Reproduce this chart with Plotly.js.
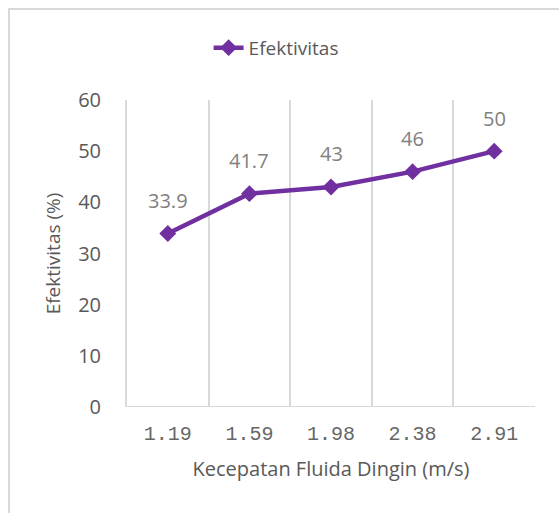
<!DOCTYPE html>
<html>
<head>
<meta charset="utf-8">
<script src="https://cdn.plot.ly/plotly-3.0.1.min.js"></script>
<style>
  html, body { margin: 0; padding: 0; background: #ffffff; overflow: hidden; }
  #frame { position: absolute; left: 8px; top: 8px; width: 700px; height: 700px;
           border: 2px solid #d9d9d9; box-sizing: border-box; }
  #chart { position: absolute; left: 0; top: 0; width: 559px; height: 513px; }
</style>
</head>
<body>
<div id="frame"></div>
<div id="chart"></div>
<script>
// Effectiveness of the heat exchanger vs. cold-fluid velocity
const velocityLabels = ['1.19', '1.59', '1.98', '2.38', '2.91'];
const effectiveness = [33.9, 41.7, 43, 46, 50];
const yTicks = [0, 10, 20, 30, 40, 50, 60];

const idx = velocityLabels.map((_, i) => i);
// category boundaries used for the vertical gridlines
const bounds = velocityLabels.map((_, i) => i - 0.5).concat([velocityLabels.length - 0.5]);

const purple = '#7030A0';
const grid = '#d9d9d9';
const txt = '#595959';
const font = 'Open Sans, sans-serif';

const data = [
  {
    x: idx,
    y: effectiveness,
    type: 'scatter',
    mode: 'lines+markers',
    name: 'Efektivitas',
    line: { color: purple, width: 4.5 },
    marker: { symbol: 'diamond', size: 13, color: purple },
    cliponaxis: false
  },
  {
    // invisible trace carrying the boundary axis
    x: bounds,
    y: bounds.map(() => null),
    xaxis: 'x2',
    type: 'scatter',
    mode: 'lines',
    showlegend: false,
    hoverinfo: 'skip'
  }
];

// value labels above each point
const valueLabels = effectiveness.map((v, i) => ({
  x: idx[i], y: v, xref: 'x', yref: 'y',
  text: String(v), showarrow: false,
  yanchor: 'middle', yshift: 33,
  font: { family: font, size: 20, color: '#808080' }
}));

const layout = {
  width: 559,
  height: 513,
  paper_bgcolor: 'rgba(0,0,0,0)',
  plot_bgcolor: 'rgba(0,0,0,0)',
  margin: { l: 127, r: 24, t: 100, b: 106 },
  showlegend: true,
  legend: {
    orientation: 'h',
    x: 0.2, xanchor: 'left',
    y: 1.17, yanchor: 'middle',
    font: { family: font, size: 19, color: txt },
    bgcolor: 'rgba(0,0,0,0)'
  },
  annotations: valueLabels,
  xaxis: {
    range: [-0.5, velocityLabels.length - 0.5],
    tickmode: 'array',
    tickvals: idx,
    ticktext: velocityLabels,
    showgrid: false,
    zeroline: false,
    showline: false,
    ticks: '',
    ticklabelstandoff: 12,
    tickfont: { family: 'Liberation Mono, monospace', size: 20, color: '#666666' },
    title: {
      text: 'Kecepatan Fluida Dingin (m/s)',
      font: { family: font, size: 20, color: txt },
      standoff: 16
    }
  },
  xaxis2: {
    overlaying: 'x',
    matches: 'x',
    range: [-0.5, velocityLabels.length - 0.5],
    tickmode: 'array',
    tickvals: bounds,
    showticklabels: false,
    showgrid: true,
    gridcolor: grid,
    gridwidth: 2,
    zeroline: false,
    ticks: ''
  },
  yaxis: {
    range: [0, 60],
    tickmode: 'array',
    tickvals: yTicks,
    showgrid: false,
    zeroline: false,
    showline: true,
    linecolor: grid,
    linewidth: 2,
    ticks: '',
    ticklabelstandoff: 20,
    tickfont: { family: font, size: 20, color: txt },
    title: {
      text: 'Efektivitas (%)',
      font: { family: font, size: 19, color: txt },
      standoff: 12
    }
  },
  shapes: [
    {
      type: 'line', xref: 'paper', yref: 'y',
      x0: 0, x1: 1, y0: 0, y1: 0,
      line: { color: grid, width: 2 }
    }
  ]
};

Plotly.newPlot('chart', data, layout, { displayModeBar: false, staticPlot: true });
</script>
</body>
</html>
